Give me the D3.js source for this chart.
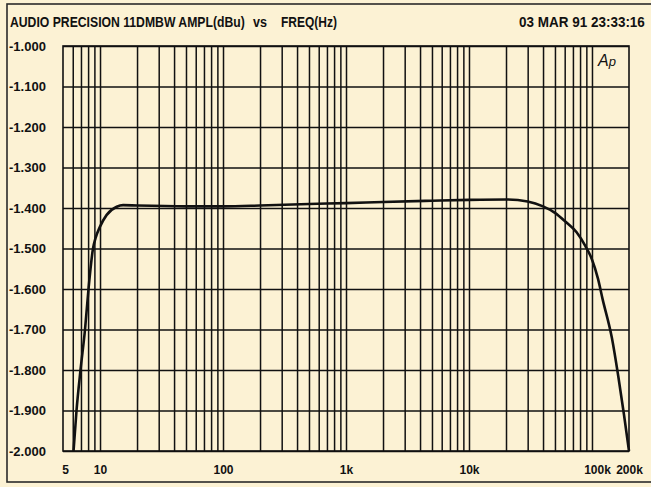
<!DOCTYPE html>
<html>
<head>
<meta charset="utf-8">
<script src="https://cdn.jsdelivr.net/npm/d3@7"></script>
<style>
	html, body { margin: 0; padding: 0; background: #fcf2d4; }
	svg { display: block; }
	text { font-family: "Liberation Sans", Arial, sans-serif; font-weight: bold; fill: #111; }
</style>
</head>
<body>
<svg id="chart" width="651" height="487"></svg>
<script>
//measured response (Hz / dBu)
var freqs = [6.09, 6.44, 6.94, 7.55, 8.06, 8.77, 9.18, 10.0, 11.33, 13.67, 15.4, 20, 50, 100, 200, 500, 1000, 2000, 5000, 10000, 20000, 30000, 40000, 50000, 61000, 75000, 88000, 100000, 112000, 122000, 145000, 163500, 182000, 200000];
var ampl  = [-2.0, -1.9, -1.8, -1.7, -1.6, -1.5, -1.475, -1.446, -1.417, -1.397, -1.393, -1.394, -1.396, -1.396, -1.394, -1.390, -1.388, -1.385, -1.382, -1.380, -1.379, -1.384, -1.396, -1.412, -1.434, -1.460, -1.493, -1.527, -1.575, -1.625, -1.72, -1.815, -1.91, -2.0];

//axis ticks
var yTicks = [-1.0, -1.1, -1.2, -1.3, -1.4, -1.5, -1.6, -1.7, -1.8, -1.9, -2.0];
var xLabelValues = [5, 10, 100, 1000, 10000, 100000, 200000];
var xLabels = ["5", "10", "100", "1k", "10k", "100k", "200k"];

var svg = d3.select("#chart");
var margin = {left: 63, right: 22, top: 46, bottom: 36};
var width = 651 - margin.left - margin.right;
var height = 487 - margin.top - margin.bottom;

var x = d3.scaleLog().domain([5, 200000]).range([0, width]);
var y = d3.scaleLinear().domain([-2.0, -1.0]).range([height, 0]);

//outer frame
svg.append("rect")
	.attr("x", 7).attr("y", 4)
	.attr("width", 660).attr("height", 478)
	.attr("fill", "none").attr("stroke", "#2a2a2a").attr("stroke-width", 1.6);

//header (narrow face in the original, so squeeze each piece to its measured width)
var header = [
	{t: "AUDIO PRECISION 11DMBW AMPL(dBu)", x: 10, w: 235},
	{t: "vs", x: 253, w: 14},
	{t: "FREQ(Hz)", x: 281, w: 56},
	{t: "03 MAR 91 23:33:16", x: 519, w: 126}
];
header.forEach(function(h) {
	var hg = svg.append("g");
	var t = hg.append("text")
		.attr("x", 0).attr("y", 0)
		.attr("font-size", 14)
		.text(h.t);
	var natural = t.node().getComputedTextLength();
	hg.attr("transform", "translate(" + h.x + ",27) scale(" + (h.w / natural) + ",1)");
});

var g = svg.append("g").attr("transform", "translate(" + margin.left + "," + margin.top + ")");

//vertical grid : 1..9 per decade
var gridX = [];
for (var e = 0; e <= 5; e++)
	for (var m = 1; m <= 9; m++) {
		var f = m * Math.pow(10, e);
		if (f > 5 && f < 200000) gridX.push(f);
	}

g.append("g").attr("class", "gridx")
	.attr("transform", "translate(0," + height + ")")
	.call(d3.axisBottom(x).tickValues(gridX).tickSize(-height).tickFormat(""))
	.call(function(s) {
		s.select(".domain").remove();
		s.selectAll("line").attr("stroke", "#111").attr("stroke-width", 1.5);
	});

//horizontal grid
g.append("g").attr("class", "gridy")
	.call(d3.axisLeft(y).tickValues(yTicks).tickSize(-width).tickFormat(""))
	.call(function(s) {
		s.select(".domain").remove();
		s.selectAll("line").attr("stroke", "#111").attr("stroke-width", 1.5);
	});

//plot border
g.append("rect")
	.attr("width", width).attr("height", height)
	.attr("fill", "none").attr("stroke", "#111").attr("stroke-width", 1.6);

//y labels (plain hyphen, not unicode minus)
g.append("g")
	.call(d3.axisLeft(y).tickValues(yTicks).tickSize(0)
		.tickFormat(function(d) { return "-" + Math.abs(d).toFixed(3); }))
	.call(function(s) {
		s.select(".domain").remove();
		s.selectAll("text")
			.attr("x", 9 - margin.left)
			.attr("text-anchor", "start")
			.attr("font-size", 13)
			.attr("font-family", null)
			.attr("fill", "#111");
	});

//x labels
g.append("g")
	.attr("transform", "translate(0," + height + ")")
	.call(d3.axisBottom(x).tickValues(xLabelValues).tickSize(0)
		.tickFormat(function(d, i) { return xLabels[i]; }))
	.call(function(s) {
		s.select(".domain").remove();
		s.selectAll("text")
			.attr("y", 14)
			.attr("font-size", 12)
			.attr("font-family", null)
			.attr("fill", "#111");
		s.selectAll(".tick").filter(function(d) { return d == 5; }).select("text").attr("dx", 2);
		s.selectAll(".tick").filter(function(d) { return d == 100000; }).select("text").attr("dx", 5);
	});

//Ap logo
var logo = g.append("text")
	.attr("x", x(100000) + 6)
	.attr("y", 20)
	.style("font-style", "italic")
	.style("font-weight", "normal")
	.attr("font-size", 16);
logo.append("tspan").text("A");
logo.append("tspan").attr("font-size", 13).text("p");

//response curve
var line = d3.line()
	.x(function(d, i) { return x(freqs[i]); })
	.y(function(d) { return y(d); })
	.curve(d3.curveMonotoneX);

g.append("path")
	.datum(ampl)
	.attr("fill", "none")
	.attr("stroke", "#111")
	.attr("stroke-width", 2.6)
	.attr("stroke-linejoin", "round")
	.attr("d", line);
</script>
</body>
</html>
